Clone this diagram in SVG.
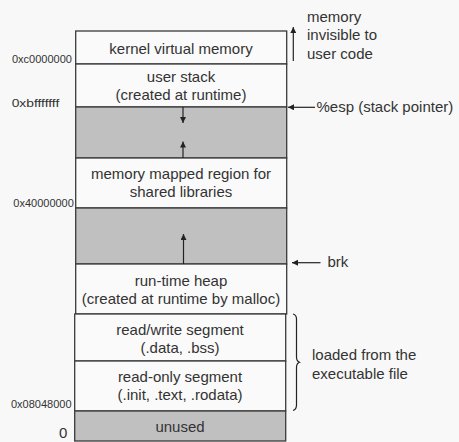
<svg xmlns="http://www.w3.org/2000/svg" width="459" height="442" viewBox="0 0 459 442">
<style>
.seg{fill:#fafafa;stroke:#3a3a3a;stroke-width:1.3}
.gap{fill:#c0c0c0;stroke:#3a3a3a;stroke-width:1.3}
.t{font-family:"Liberation Sans",Arial,sans-serif;font-size:15px;fill:#333;text-anchor:middle}
.r{font-family:"Liberation Sans",Arial,sans-serif;font-size:15px;fill:#333}
.a{font-family:"Liberation Sans",Arial,sans-serif;font-size:11px;fill:#333}
.ln{stroke:#222;stroke-width:1.2;fill:none}
</style>
<defs>
<marker id="ah" viewBox="0 0 10 10" refX="10" refY="5" markerWidth="6" markerHeight="6" orient="auto" markerUnits="userSpaceOnUse">
<path d="M0,0 L10,5 L0,10 z" fill="#222"/>
</marker>
</defs>
<rect width="459" height="442" fill="#f8f8f8"/>
<g id="kernel"><rect class="seg" x="75.7" y="31" width="211" height="33"/><text class="t" x="181" y="54">kernel virtual memory</text></g>
<g id="userstack"><rect class="seg" x="75.7" y="64" width="211" height="43"/><text class="t" x="181" y="82">user stack</text><text class="t" x="181" y="99.5">(created at runtime)</text></g>
<g id="gap1"><rect class="gap" x="75.7" y="107" width="211" height="51"/></g>
<g id="mmap"><rect class="seg" x="75.7" y="158" width="211" height="50"/><text class="t" x="181" y="179">memory mapped region for</text><text class="t" x="181" y="197">shared libraries</text></g>
<g id="gap2"><rect class="gap" x="75.7" y="208" width="211" height="56"/></g>
<g id="heap"><rect class="seg" x="75.7" y="264" width="211" height="50"/><text class="t" x="181" y="286">run-time heap</text><text class="t" x="181" y="304">(created at runtime by malloc)</text></g>
<g id="rw"><rect class="seg" x="74.7" y="314" width="211" height="47"/><text class="t" x="180" y="335">read/write segment</text><text class="t" x="180" y="353">(.data, .bss)</text></g>
<g id="ro"><rect class="seg" x="74.7" y="361" width="211" height="50"/><text class="t" x="180" y="382">read-only segment</text><text class="t" x="180" y="400">(.init, .text, .rodata)</text></g>
<g id="unused"><rect class="gap" x="74.7" y="411" width="211" height="30"/><text class="t" x="180" y="431.5">unused</text></g>
<g id="addresses">
<text class="a" x="12" y="63">0xc0000000</text>
<text class="a" x="11.7" y="107" textLength="47.6" lengthAdjust="spacingAndGlyphs">0xbfffffff</text>
<text class="a" x="13.3" y="206.5">0x40000000</text>
<text class="a" x="11" y="408">0x08048000</text>
<text class="r" x="59" y="438">0</text>
</g>
<g id="notes">
<text class="r" x="307" y="21.5">memory</text>
<text class="r" x="307" y="40">invisible to</text>
<text class="r" x="307" y="58.5">user code</text>
<text class="r" x="316.5" y="112">%esp (stack pointer)</text>
<text class="r" x="327.5" y="266.5">brk</text>
<text class="r" x="312" y="360">loaded from the</text>
<text class="r" x="312" y="378.5">executable file</text>
</g>
<g id="connectors">
<line class="ln" x1="293.3" y1="61" x2="293.3" y2="27" marker-end="url(#ah)"/>
<line class="ln" x1="315" y1="107.3" x2="288" y2="107.3" marker-end="url(#ah)"/>
<line class="ln" x1="320.5" y1="262.7" x2="292" y2="262.7" marker-end="url(#ah)"/>
<line class="ln" x1="183" y1="107" x2="183" y2="123" marker-end="url(#ah)"/>
<line class="ln" x1="183" y1="158" x2="183" y2="141.5" marker-end="url(#ah)"/>
<line class="ln" x1="183.5" y1="264" x2="183.5" y2="234" marker-end="url(#ah)"/>
<path class="ln" stroke="#555" d="M293,314 Q296.5,315 296.5,319 L296.5,357 Q296.5,361 299.5,362.3 Q296.5,363.5 296.5,367.5 L296.5,405 Q296.5,409.5 293,410.5"/>
</g>
</svg>
